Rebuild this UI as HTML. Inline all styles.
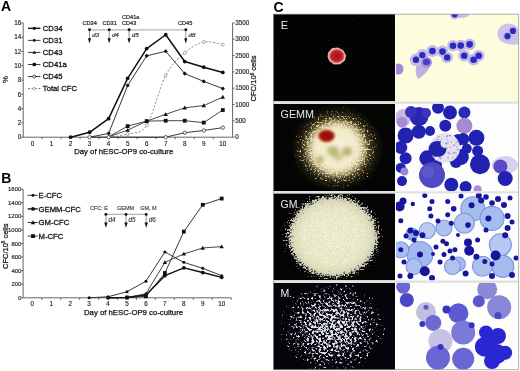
<!DOCTYPE html>
<html><head><meta charset="utf-8">
<style>
html,body{margin:0;padding:0;background:#fff;}
body{width:520px;height:371px;overflow:hidden;}
svg{display:block;will-change:transform;filter:blur(0.3px);}
</style></head><body>
<svg width="520" height="371" viewBox="0 0 520 371">
<defs><clipPath id="c00"><rect x="273" y="14" width="122" height="87.5"/></clipPath><clipPath id="c01"><rect x="396" y="14" width="123" height="87.5"/></clipPath><clipPath id="c10"><rect x="273" y="103.8" width="122" height="87.5"/></clipPath><clipPath id="c11"><rect x="396" y="103.8" width="123" height="87.5"/></clipPath><clipPath id="c20"><rect x="273" y="193.3" width="122" height="87.1"/></clipPath><clipPath id="c21"><rect x="396" y="193.3" width="123" height="87.1"/></clipPath><clipPath id="c30"><rect x="273" y="282.8" width="122" height="87.2"/></clipPath><clipPath id="c31"><rect x="396" y="282.8" width="123" height="87.2"/></clipPath><radialGradient id="eb"><stop offset="0" stop-color="#a81418"/><stop offset="0.6" stop-color="#bc1e24"/><stop offset="0.8" stop-color="#d86060"/><stop offset="0.92" stop-color="#f2b8b0"/><stop offset="1" stop-color="#e8a8a0"/></radialGradient><filter id="sb" x="-20%" y="-20%" width="140%" height="140%"><feGaussianBlur stdDeviation="0.45"/></filter><filter id="spk1" x="0" y="0" width="1" height="1" color-interpolation-filters="sRGB"><feTurbulence type="fractalNoise" baseFrequency="0.55" numOctaves="2" seed="5"/><feColorMatrix type="matrix" values="1 0 0 0 0  1 0 0 0 0  1 0 0 0 0  1 0 0 0 0" result="na"/><feComposite in="na" in2="SourceAlpha" operator="arithmetic" k2="5" k3="5" k4="-5" result="m"/><feFlood flood-color="#e0d28e"/><feComposite in2="m" operator="in"/></filter><radialGradient id="gmh"><stop offset="0" stop-color="#fff" stop-opacity="1"/><stop offset="0.35" stop-color="#fff" stop-opacity="0.92"/><stop offset="0.55" stop-color="#fff" stop-opacity="0.6"/><stop offset="0.8" stop-color="#fff" stop-opacity="0.4"/><stop offset="1" stop-color="#fff" stop-opacity="0.22"/></radialGradient><radialGradient id="gmc"><stop offset="0" stop-color="#f6f3dc"/><stop offset="0.65" stop-color="#f2edd0" stop-opacity="0.95"/><stop offset="0.85" stop-color="#e8e0b8" stop-opacity="0.6"/><stop offset="1" stop-color="#e6dcb0" stop-opacity="0"/></radialGradient><radialGradient id="gmz"><stop offset="0" stop-color="#908048"/><stop offset="0.6" stop-color="#62562c" stop-opacity="0.85"/><stop offset="1" stop-color="#2a2614" stop-opacity="0"/></radialGradient><filter id="bl2" x="-50%" y="-50%" width="200%" height="200%"><feGaussianBlur stdDeviation="2.2"/></filter><filter id="bl1" x="-50%" y="-50%" width="200%" height="200%"><feGaussianBlur stdDeviation="1.1"/></filter><filter id="spk3" x="0" y="0" width="1" height="1" color-interpolation-filters="sRGB"><feTurbulence type="fractalNoise" baseFrequency="0.55" numOctaves="2" seed="11"/><feColorMatrix type="matrix" values="1 0 0 0 0  1 0 0 0 0  1 0 0 0 0  1 0 0 0 0" result="na"/><feComposite in="na" in2="SourceAlpha" operator="arithmetic" k2="5" k3="5" k4="-5" result="m"/><feFlood flood-color="#c9cab8"/><feComposite in2="m" operator="in"/></filter><filter id="spk3b" x="0" y="0" width="1" height="1" color-interpolation-filters="sRGB"><feTurbulence type="fractalNoise" baseFrequency="0.9" numOctaves="1" seed="12"/><feColorMatrix type="matrix" values="1 0 0 0 0  1 0 0 0 0  1 0 0 0 0  1 0 0 0 0" result="na"/><feComposite in="na" in2="SourceAlpha" operator="arithmetic" k2="4" k3="4" k4="-4" result="m"/><feFlood flood-color="#fbfbee"/><feComposite in2="m" operator="in"/></filter><radialGradient id="gm3h"><stop offset="0" stop-color="#fff" stop-opacity="1"/><stop offset="0.75" stop-color="#fff" stop-opacity="0.88"/><stop offset="0.88" stop-color="#fff" stop-opacity="0.52"/><stop offset="1" stop-color="#fff" stop-opacity="0.25"/></radialGradient><radialGradient id="gm3c"><stop offset="0" stop-color="#efeed2"/><stop offset="0.7" stop-color="#e9e7c6"/><stop offset="0.88" stop-color="#e2e0bc" stop-opacity="0.8"/><stop offset="1" stop-color="#dcdab4" stop-opacity="0"/></radialGradient><radialGradient id="gm3g"><stop offset="0" stop-color="#fff" stop-opacity="0.47"/><stop offset="0.8" stop-color="#fff" stop-opacity="0.44"/><stop offset="1" stop-color="#fff" stop-opacity="0"/></radialGradient><filter id="spk3c" x="0" y="0" width="1" height="1" color-interpolation-filters="sRGB"><feTurbulence type="fractalNoise" baseFrequency="0.7" numOctaves="1" seed="17"/><feColorMatrix type="matrix" values="1 0 0 0 0  1 0 0 0 0  1 0 0 0 0  1 0 0 0 0" result="na"/><feComposite in="na" in2="SourceAlpha" operator="arithmetic" k2="4" k3="4" k4="-4" result="m"/><feFlood flood-color="#cfcca2"/><feComposite in2="m" operator="in"/></filter><filter id="spk4" x="0" y="0" width="1" height="1" color-interpolation-filters="sRGB"><feTurbulence type="fractalNoise" baseFrequency="0.42" numOctaves="2" seed="21"/><feColorMatrix type="matrix" values="1 0 0 0 0  1 0 0 0 0  1 0 0 0 0  1 0 0 0 0" result="na"/><feComposite in="na" in2="SourceAlpha" operator="arithmetic" k2="6" k3="6" k4="-6" result="m"/><feFlood flood-color="#e2e4f4"/><feComposite in2="m" operator="in"/></filter><radialGradient id="gm4h"><stop offset="0" stop-color="#fff" stop-opacity="0.62"/><stop offset="0.45" stop-color="#fff" stop-opacity="0.55"/><stop offset="0.8" stop-color="#fff" stop-opacity="0.42"/><stop offset="1" stop-color="#fff" stop-opacity="0.32"/></radialGradient></defs>
<rect width="520" height="371" fill="#fff"/>
<g stroke="#555" stroke-width="0.9" fill="none">
<path d="M23.2 22.9V137.2H232.6V22.9"/>
<path d="M21.2 137.2H23.2M21.2 122.91H23.2M21.2 108.62H23.2M21.2 94.34H23.2M21.2 80.05H23.2M21.2 65.76H23.2M21.2 51.47H23.2M21.2 37.19H23.2M21.2 22.9H23.2M232.6 137.2H234.6M232.6 120.87H234.6M232.6 104.54H234.6M232.6 88.21H234.6M232.6 71.89H234.6M232.6 55.56H234.6M232.6 39.23H234.6M232.6 22.9H234.6M42 137.2V139.2M61.03 137.2V139.2M80.06 137.2V139.2M99.09 137.2V139.2M118.12 137.2V139.2M137.15 137.2V139.2M156.18 137.2V139.2M175.21 137.2V139.2M194.24 137.2V139.2M213.27 137.2V139.2"/>
</g>
<g font-family='"Liberation Sans", sans-serif' font-size="6.3" fill="#222" stroke="#222" stroke-width="0.15" text-anchor="end">
<text x="21.3" y="139.4">0</text>
<text x="21.3" y="125.11">2</text>
<text x="21.3" y="110.83">4</text>
<text x="21.3" y="96.54">6</text>
<text x="21.3" y="82.25">8</text>
<text x="21.3" y="67.96">10</text>
<text x="21.3" y="53.67">12</text>
<text x="21.3" y="39.39">14</text>
<text x="21.3" y="25.1">16</text>
</g>
<g font-family='"Liberation Sans", sans-serif' font-size="6.3" fill="#222" stroke="#222" stroke-width="0.15">
<text x="235.2" y="139.4">0</text>
<text x="235.2" y="123.07">500</text>
<text x="235.2" y="106.74">1000</text>
<text x="235.2" y="90.41">1500</text>
<text x="235.2" y="74.09">2000</text>
<text x="235.2" y="57.76">2500</text>
<text x="235.2" y="41.43">3000</text>
<text x="235.2" y="25.1">3500</text>
</g>
<g font-family='"Liberation Sans", sans-serif' font-size="6.3" fill="#222" stroke="#222" stroke-width="0.15" text-anchor="middle">
<text x="32.5" y="146">0</text>
<text x="51.53" y="146">1</text>
<text x="70.56" y="146">2</text>
<text x="89.59" y="146">3</text>
<text x="108.62" y="146">4</text>
<text x="127.65" y="146">5</text>
<text x="146.68" y="146">6</text>
<text x="165.71" y="146">7</text>
<text x="184.74" y="146">8</text>
<text x="203.77" y="146">9</text>
<text x="222.8" y="146">10</text>
</g>
<text x="74.2" y="154.4" font-family='"Liberation Sans", sans-serif' font-size="7.75" fill="#111" stroke="#111" stroke-width="0.25">Day of hESC-OP9 co-culture</text>
<text transform="translate(7.6 79.5) rotate(-90)" text-anchor="middle" font-family='"Liberation Sans", sans-serif' font-size="7.8" fill="#111" stroke="#111" stroke-width="0.2">%</text>
<text transform="translate(256.2 78.5) rotate(-90)" text-anchor="middle" font-family='"Liberation Sans", sans-serif' font-size="7.6" fill="#111" stroke="#111" stroke-width="0.25">CFC/10<tspan font-size="4.6" dy="-2.6">6</tspan><tspan dy="2.6"> cells</tspan></text>
<text x="1" y="10.9" font-family='"Liberation Sans", sans-serif' font-size="14" font-weight="bold" fill="#000">A</text>
<path d="M108.62 137.2C111.79 136.68 121.31 136.08 127.65 134.1C133.99 132.12 140.34 135.08 146.68 125.31C153.02 115.54 159.37 87.54 165.71 75.48C172.05 63.42 178.4 58.52 184.74 52.94C191.08 47.37 197.43 43.39 203.77 42C210.11 40.62 219.63 44.18 222.8 44.62" fill="none" stroke="#777" stroke-width="0.8" stroke-dasharray="2.2 1.6"/>
<circle cx="127.65" cy="134.1" r="1.5" fill="#fff" stroke="#888" stroke-width="0.7"/>
<circle cx="146.68" cy="125.31" r="1.5" fill="#fff" stroke="#888" stroke-width="0.7"/>
<circle cx="165.71" cy="75.48" r="1.5" fill="#fff" stroke="#888" stroke-width="0.7"/>
<circle cx="184.74" cy="52.94" r="1.5" fill="#fff" stroke="#888" stroke-width="0.7"/>
<circle cx="203.77" cy="42" r="1.5" fill="#fff" stroke="#888" stroke-width="0.7"/>
<circle cx="222.8" cy="44.62" r="1.5" fill="#fff" stroke="#888" stroke-width="0.7"/>
<polyline points="89.59,137.2 108.62,137.2 127.65,137.2 146.68,137.2 165.71,137.2 184.74,132.7 203.77,130.48 222.8,127.63" fill="none" stroke="#222" stroke-width="0.9" stroke-linejoin="round"/>
<polyline points="108.62,136.84 127.65,126.13 146.68,121.13 165.71,120.7 184.74,120.7 203.77,122.63 222.8,110.05" fill="none" stroke="#333" stroke-width="0.9" stroke-linejoin="round"/>
<polyline points="108.62,136.84 127.65,130.13 146.68,121.13 165.71,114.34 184.74,107.77 203.77,105.55 222.8,97.05" fill="none" stroke="#333" stroke-width="0.9" stroke-linejoin="round"/>
<polyline points="89.59,137.2 108.62,133.41 127.65,85.48 146.68,55.83 165.71,51.26 184.74,73.62 203.77,81.41 222.8,88.55" fill="none" stroke="#222" stroke-width="0.9" stroke-linejoin="round"/>
<polyline points="70.56,137.2 89.59,132.27 108.62,118.63 127.65,78.34 146.68,48.62 165.71,34.76 184.74,61.55 203.77,67.19 222.8,72.41" fill="none" stroke="#111" stroke-width="1.5" stroke-linejoin="round"/>
<circle cx="89.59" cy="137.2" r="1.7" fill="#fff" stroke="#333" stroke-width="0.8"/>
<circle cx="108.62" cy="137.2" r="1.7" fill="#fff" stroke="#333" stroke-width="0.8"/>
<circle cx="165.71" cy="137.2" r="1.7" fill="#fff" stroke="#333" stroke-width="0.8"/>
<circle cx="184.74" cy="132.7" r="1.7" fill="#fff" stroke="#333" stroke-width="0.8"/>
<circle cx="203.77" cy="130.48" r="1.7" fill="#fff" stroke="#333" stroke-width="0.8"/>
<circle cx="222.8" cy="127.63" r="1.7" fill="#fff" stroke="#333" stroke-width="0.8"/>
<rect x="125.75" y="124.23" width="3.8" height="3.8" fill="#111"/>
<rect x="144.78" y="119.23" width="3.8" height="3.8" fill="#111"/>
<rect x="163.81" y="118.8" width="3.8" height="3.8" fill="#111"/>
<rect x="182.84" y="118.8" width="3.8" height="3.8" fill="#111"/>
<rect x="201.87" y="120.73" width="3.8" height="3.8" fill="#111"/>
<rect x="220.9" y="108.15" width="3.8" height="3.8" fill="#111"/>
<path d="M127.65 127.93L129.85 131.78L125.45 131.78Z" fill="#111"/>
<path d="M146.68 118.93L148.88 122.78L144.48 122.78Z" fill="#111"/>
<path d="M165.71 112.14L167.91 115.99L163.51 115.99Z" fill="#111"/>
<path d="M184.74 105.57L186.94 109.42L182.54 109.42Z" fill="#111"/>
<path d="M203.77 103.35L205.97 107.2L201.57 107.2Z" fill="#111"/>
<path d="M222.8 94.85L225 98.7L220.6 98.7Z" fill="#111"/>
<path d="M108.62 131.31L110.72 133.41L108.62 135.51L106.52 133.41Z" fill="#111"/>
<path d="M127.65 83.38L129.75 85.48L127.65 87.58L125.55 85.48Z" fill="#111"/>
<path d="M146.68 53.73L148.78 55.83L146.68 57.93L144.58 55.83Z" fill="#111"/>
<path d="M165.71 49.16L167.81 51.26L165.71 53.36L163.61 51.26Z" fill="#111"/>
<path d="M184.74 71.52L186.84 73.62L184.74 75.72L182.64 73.62Z" fill="#111"/>
<path d="M203.77 79.31L205.87 81.41L203.77 83.51L201.67 81.41Z" fill="#111"/>
<path d="M222.8 86.45L224.9 88.55L222.8 90.65L220.7 88.55Z" fill="#111"/>
<circle cx="70.56" cy="137.2" r="1.9" fill="#111"/>
<circle cx="89.59" cy="132.27" r="1.9" fill="#111"/>
<circle cx="108.62" cy="118.63" r="1.9" fill="#111"/>
<circle cx="127.65" cy="78.34" r="1.9" fill="#111"/>
<circle cx="146.68" cy="48.62" r="1.9" fill="#111"/>
<circle cx="165.71" cy="34.76" r="1.9" fill="#111"/>
<circle cx="184.74" cy="61.55" r="1.9" fill="#111"/>
<circle cx="203.77" cy="67.19" r="1.9" fill="#111"/>
<circle cx="222.8" cy="72.41" r="1.9" fill="#111"/>
<path d="M28 28.3H40.4" stroke="#222" stroke-width="1.5"/>
<circle cx="34.3" cy="28.3" r="1.61" fill="#111"/>
<text x="42.8" y="31" font-family='"Liberation Sans", sans-serif' font-size="7.7" fill="#111" stroke="#111" stroke-width="0.28">CD34</text>
<path d="M28 40.36H40.4" stroke="#222" stroke-width="0.9"/>
<path d="M34.3 38.58L36.08 40.36L34.3 42.14L32.52 40.36Z" fill="#111"/>
<text x="42.8" y="43.06" font-family='"Liberation Sans", sans-serif' font-size="7.7" fill="#111" stroke="#111" stroke-width="0.28">CD31</text>
<path d="M28 52.42H40.4" stroke="#222" stroke-width="0.9"/>
<path d="M34.3 50.55L36.17 53.82L32.43 53.82Z" fill="#111"/>
<text x="42.8" y="55.12" font-family='"Liberation Sans", sans-serif' font-size="7.7" fill="#111" stroke="#111" stroke-width="0.28">CD43</text>
<path d="M28 64.48H40.4" stroke="#222" stroke-width="0.9"/>
<rect x="32.68" y="62.87" width="3.23" height="3.23" fill="#111"/>
<text x="42.8" y="67.18" font-family='"Liberation Sans", sans-serif' font-size="7.7" fill="#111" stroke="#111" stroke-width="0.28">CD41a</text>
<path d="M28 76.54H40.4" stroke="#222" stroke-width="0.9"/>
<circle cx="34.3" cy="76.54" r="1.44" fill="#fff" stroke="#111" stroke-width="0.8"/>
<text x="42.8" y="79.24" font-family='"Liberation Sans", sans-serif' font-size="7.7" fill="#111" stroke="#111" stroke-width="0.28">CD45</text>
<path d="M28 88.6H40.4" stroke="#666" stroke-width="0.85" stroke-dasharray="2 1.5"/>
<circle cx="34.3" cy="88.6" r="1.27" fill="#fff" stroke="#888" stroke-width="0.7"/>
<text x="42.8" y="91.3" font-family='"Liberation Sans", sans-serif' font-size="7.7" fill="#111" stroke="#111" stroke-width="0.28">Total CFC</text>
<path d="M89.5 29.8H185.8" stroke="#b4b4b4" stroke-width="1.3"/>
<path d="M89.5 29.8V40" stroke="#888" stroke-width="0.9"/>
<path d="M87.9 38.3L91.1 38.3L89.5 43.6Z" fill="#111"/>
<circle cx="89.5" cy="29.8" r="1.45" fill="#111"/>
<text x="92.2" y="36.9" font-family='"Liberation Sans", sans-serif' font-size="6.2" font-style="italic" fill="#333" stroke="#333" stroke-width="0.2">d3</text>
<path d="M109.2 29.8V40" stroke="#888" stroke-width="0.9"/>
<path d="M107.6 38.3L110.8 38.3L109.2 43.6Z" fill="#111"/>
<circle cx="109.2" cy="29.8" r="1.45" fill="#111"/>
<text x="111.9" y="36.9" font-family='"Liberation Sans", sans-serif' font-size="6.2" font-style="italic" fill="#333" stroke="#333" stroke-width="0.2">d4</text>
<path d="M129.1 29.8V40" stroke="#888" stroke-width="0.9"/>
<path d="M127.5 38.3L130.7 38.3L129.1 43.6Z" fill="#111"/>
<circle cx="129.1" cy="29.8" r="1.45" fill="#111"/>
<text x="131.8" y="36.9" font-family='"Liberation Sans", sans-serif' font-size="6.2" font-style="italic" fill="#333" stroke="#333" stroke-width="0.2">d5</text>
<path d="M185.8 29.8V40" stroke="#888" stroke-width="0.9"/>
<path d="M184.2 38.3L187.4 38.3L185.8 43.6Z" fill="#111"/>
<circle cx="185.8" cy="29.8" r="1.45" fill="#111"/>
<text x="188.5" y="36.9" font-family='"Liberation Sans", sans-serif' font-size="6.2" font-style="italic" fill="#333" stroke="#333" stroke-width="0.2">d8</text>
<g font-family='"Liberation Sans", sans-serif' font-size="5.6" fill="#222" stroke="#222" stroke-width="0.2" text-anchor="middle">
<text x="89.7" y="25.3">CD34</text>
<text x="109.6" y="25.3">CD31</text>
<text x="122" y="18.9" text-anchor="start">CD41a</text>
<text x="122" y="25.3" text-anchor="start">CD43</text>
<text x="185.2" y="25.3">CD45</text>
</g>
<g stroke="#555" stroke-width="0.9" fill="none">
<path d="M23.1 189.2V297.8H231.3"/>
<path d="M21.1 297.8H23.1M21.1 284.23H23.1M21.1 270.65H23.1M21.1 257.07H23.1M21.1 243.5H23.1M21.1 229.93H23.1M21.1 216.35H23.1M21.1 202.77H23.1M21.1 189.2H23.1M41.77 297.8V299.8M60.71 297.8V299.8M79.65 297.8V299.8M98.59 297.8V299.8M117.53 297.8V299.8M136.47 297.8V299.8M155.41 297.8V299.8M174.35 297.8V299.8M193.29 297.8V299.8M212.23 297.8V299.8M231.17 297.8V299.8"/>
</g>
<g font-family='"Liberation Sans", sans-serif' font-size="6" fill="#222" stroke="#222" stroke-width="0.15" text-anchor="end">
<text x="21.4" y="299.9">0</text>
<text x="21.4" y="286.33">200</text>
<text x="21.4" y="272.75">400</text>
<text x="21.4" y="259.18">600</text>
<text x="21.4" y="245.6">800</text>
<text x="21.4" y="232.03">1000</text>
<text x="21.4" y="218.45">1200</text>
<text x="21.4" y="204.87">1400</text>
<text x="21.4" y="191.3">1600</text>
</g>
<g font-family='"Liberation Sans", sans-serif' font-size="6.3" fill="#222" stroke="#222" stroke-width="0.15" text-anchor="middle">
<text x="32.3" y="306.1">0</text>
<text x="51.24" y="306.1">1</text>
<text x="70.18" y="306.1">2</text>
<text x="89.12" y="306.1">3</text>
<text x="108.06" y="306.1">4</text>
<text x="127" y="306.1">5</text>
<text x="145.94" y="306.1">6</text>
<text x="164.88" y="306.1">7</text>
<text x="183.82" y="306.1">8</text>
<text x="202.76" y="306.1">9</text>
<text x="221.7" y="306.1">10</text>
</g>
<text x="84" y="314.6" font-family='"Liberation Sans", sans-serif' font-size="7.75" fill="#111" stroke="#111" stroke-width="0.25">Day of hESC-OP9 co-culture</text>
<text transform="translate(7.5 246.3) rotate(-90)" text-anchor="middle" font-family='"Liberation Sans", sans-serif' font-size="7.5" fill="#111" stroke="#111" stroke-width="0.25">CFC/10<tspan font-size="4.5" dy="-2.6">6</tspan><tspan dy="2.6"> cells</tspan></text>
<text x="1.2" y="183" font-family='"Liberation Sans", sans-serif' font-size="14" font-weight="bold" fill="#000">B</text>
<polyline points="108.06,297.8 127,297.6 145.94,296.31 164.88,273.03 183.82,231.62 202.76,204.81 221.7,198.57" fill="none" stroke="#222" stroke-width="0.9" stroke-linejoin="round"/>
<polyline points="108.06,297.8 127,297.46 145.94,293.73 164.88,262.37 183.82,253.95 202.76,247.98 221.7,246.62" fill="none" stroke="#333" stroke-width="0.9" stroke-linejoin="round"/>
<polyline points="89.12,297.8 108.06,296.78 127,291.69 145.94,281.17 164.88,251.98 183.82,262.37 202.76,268.34 221.7,275.67" fill="none" stroke="#222" stroke-width="0.9" stroke-linejoin="round"/>
<polyline points="108.06,297.8 127,297.46 145.94,295.09 164.88,275.67 183.82,267.87 202.76,272.55 221.7,277.37" fill="none" stroke="#111" stroke-width="1.5" stroke-linejoin="round"/>
<rect x="125.1" y="295.7" width="3.8" height="3.8" fill="#111"/>
<rect x="144.04" y="294.41" width="3.8" height="3.8" fill="#111"/>
<rect x="162.98" y="271.13" width="3.8" height="3.8" fill="#111"/>
<rect x="181.92" y="229.72" width="3.8" height="3.8" fill="#111"/>
<rect x="200.86" y="202.91" width="3.8" height="3.8" fill="#111"/>
<rect x="219.8" y="196.67" width="3.8" height="3.8" fill="#111"/>
<path d="M145.94 291.53L148.14 295.38L143.74 295.38Z" fill="#111"/>
<path d="M164.88 260.17L167.08 264.02L162.68 264.02Z" fill="#111"/>
<path d="M183.82 251.75L186.02 255.6L181.62 255.6Z" fill="#111"/>
<path d="M202.76 245.78L204.96 249.63L200.56 249.63Z" fill="#111"/>
<path d="M221.7 244.42L223.9 248.27L219.5 248.27Z" fill="#111"/>
<circle cx="89.12" cy="297.8" r="1.5" fill="#111"/>
<circle cx="108.06" cy="296.78" r="1.5" fill="#111"/>
<circle cx="127" cy="291.69" r="1.5" fill="#111"/>
<circle cx="145.94" cy="281.17" r="1.5" fill="#111"/>
<circle cx="164.88" cy="251.98" r="1.5" fill="#111"/>
<circle cx="183.82" cy="262.37" r="1.5" fill="#111"/>
<circle cx="202.76" cy="268.34" r="1.5" fill="#111"/>
<circle cx="221.7" cy="275.67" r="1.5" fill="#111"/>
<circle cx="108.06" cy="297.8" r="1.9" fill="#111"/>
<circle cx="127" cy="297.46" r="1.9" fill="#111"/>
<circle cx="145.94" cy="295.09" r="1.9" fill="#111"/>
<circle cx="164.88" cy="275.67" r="1.9" fill="#111"/>
<circle cx="183.82" cy="267.87" r="1.9" fill="#111"/>
<circle cx="202.76" cy="272.55" r="1.9" fill="#111"/>
<circle cx="221.7" cy="277.37" r="1.9" fill="#111"/>
<path d="M27.6 195.3H37.8" stroke="#222" stroke-width="0.9"/>
<circle cx="33" cy="195.3" r="1.5" fill="#111"/>
<text x="38.6" y="198" font-family='"Liberation Sans", sans-serif' font-size="7.7" fill="#111" stroke="#111" stroke-width="0.28">E-CFC</text>
<path d="M27.6 208.9H37.8" stroke="#222" stroke-width="1.4"/>
<circle cx="33" cy="208.9" r="1.9" fill="#111"/>
<text x="38.6" y="211.6" font-family='"Liberation Sans", sans-serif' font-size="7.7" fill="#111" stroke="#111" stroke-width="0.28">GEMM-CFC</text>
<path d="M27.6 222.5H37.8" stroke="#222" stroke-width="0.9"/>
<path d="M33 220.3L35.2 224.15L30.8 224.15Z" fill="#111"/>
<text x="38.6" y="225.2" font-family='"Liberation Sans", sans-serif' font-size="7.7" fill="#111" stroke="#111" stroke-width="0.28">GM-CFC</text>
<path d="M27.6 236.1H37.8" stroke="#222" stroke-width="0.9"/>
<rect x="31.1" y="234.2" width="3.8" height="3.8" fill="#111"/>
<text x="38.6" y="238.8" font-family='"Liberation Sans", sans-serif' font-size="7.7" fill="#111" stroke="#111" stroke-width="0.28">M-CFC</text>
<path d="M105.9 214.4H146.2" stroke="#b4b4b4" stroke-width="1.2"/>
<path d="M105.9 214.4V224" stroke="#888" stroke-width="0.9"/>
<path d="M104.2 222.4L107.6 222.4L105.9 227.8Z" fill="#111"/>
<circle cx="105.9" cy="214.4" r="1.45" fill="#111"/>
<text x="108.4" y="221.8" font-family='"Liberation Sans", sans-serif' font-size="6.3" font-style="italic" fill="#333" stroke="#333" stroke-width="0.15">d4</text>
<path d="M126 214.4V224" stroke="#888" stroke-width="0.9"/>
<path d="M124.3 222.4L127.7 222.4L126 227.8Z" fill="#111"/>
<circle cx="126" cy="214.4" r="1.45" fill="#111"/>
<text x="128.5" y="221.8" font-family='"Liberation Sans", sans-serif' font-size="6.3" font-style="italic" fill="#333" stroke="#333" stroke-width="0.15">d5</text>
<path d="M146.2 214.4V224" stroke="#888" stroke-width="0.9"/>
<path d="M144.5 222.4L147.9 222.4L146.2 227.8Z" fill="#111"/>
<circle cx="146.2" cy="214.4" r="1.45" fill="#111"/>
<text x="148.7" y="221.8" font-family='"Liberation Sans", sans-serif' font-size="6.3" font-style="italic" fill="#333" stroke="#333" stroke-width="0.15">d6</text>
<g font-family='"Liberation Sans", sans-serif' font-size="5.5" fill="#333" stroke="#333" stroke-width="0.12">
<text x="90" y="210.3">CFC: E</text>
<text x="117" y="210.3">GEMM</text>
<text x="140.2" y="210.3">GM, M</text>
</g>
<text x="273.6" y="11.8" font-family='"Liberation Sans", sans-serif' font-size="14" font-weight="bold" fill="#000">C</text>
<g clip-path="url(#c00)"><rect x="273" y="14" width="122" height="87.5" fill="#030303"/><path d="M328.6 52.5 L332 48.6 L338 48 L343 50.5 L345.6 55.5 L344.5 60.5 L340 63.8 L334 64 L329.6 60.8 L328 56.5Z" fill="url(#eb)" stroke="#f0c0b4" stroke-width="0.9" stroke-linejoin="round" filter="url(#sb)"/><circle cx="312.51" cy="27.2" r="0.5" fill="#333"/><circle cx="352.41" cy="20.34" r="0.5" fill="#333"/><circle cx="338.38" cy="46" r="0.5" fill="#333"/><circle cx="280.08" cy="58.4" r="0.5" fill="#333"/><circle cx="277.57" cy="51.94" r="0.5" fill="#333"/><circle cx="281.52" cy="21.94" r="0.5" fill="#333"/><circle cx="324.79" cy="86.35" r="0.5" fill="#333"/><circle cx="288.1" cy="33.53" r="0.5" fill="#333"/><circle cx="349.55" cy="96.92" r="0.5" fill="#333"/><circle cx="343.41" cy="48.71" r="0.5" fill="#333"/><circle cx="392.1" cy="18.08" r="0.5" fill="#333"/><circle cx="377.73" cy="39.34" r="0.5" fill="#333"/><circle cx="290.6" cy="24.31" r="0.5" fill="#333"/><circle cx="310.63" cy="85.41" r="0.5" fill="#333"/><circle cx="295.05" cy="64.89" r="0.5" fill="#333"/><circle cx="350.95" cy="46.58" r="0.5" fill="#333"/><circle cx="339.82" cy="19.49" r="0.5" fill="#333"/><circle cx="280.27" cy="32.02" r="0.5" fill="#333"/><circle cx="356.01" cy="51.41" r="0.5" fill="#333"/><circle cx="311.33" cy="65.24" r="0.5" fill="#333"/><circle cx="328.29" cy="40.23" r="0.5" fill="#333"/><circle cx="369.91" cy="75.16" r="0.5" fill="#333"/><circle cx="302.78" cy="64.26" r="0.5" fill="#333"/><circle cx="337.07" cy="90.57" r="0.5" fill="#333"/><circle cx="361.99" cy="39.19" r="0.5" fill="#333"/><text x="280.8" y="28.8" font-family='"Liberation Sans", sans-serif' font-size="11" fill="#e8e8e8">E</text></g>
<g clip-path="url(#c01)"><rect x="396" y="14" width="123" height="87.5" fill="#fdfcdc"/><g filter="url(#sb)"><ellipse cx="460" cy="15" rx="9" ry="3" fill="#c8bce6"/><path d="M417 63 Q425 60 430 66 Q427 74 418 79 Q414 72 417 63Z" fill="#bfb0e0"/><ellipse cx="398.5" cy="69" rx="5" ry="5.5" fill="#a486e0"/><path d="M498 30 Q503 22 512 24 Q519 26 519 34 L519 44 Q510 46 502 42 Q496 37 498 30Z" fill="#cdc2e8"/><circle cx="416" cy="59.8" r="6.2" fill="#c6b9e8"/><circle cx="422.3" cy="55.1" r="6" fill="#c6b9e8"/><circle cx="432.4" cy="51.1" r="6" fill="#c6b9e8"/><circle cx="442.5" cy="51.6" r="6" fill="#c6b9e8"/><circle cx="447.2" cy="57.4" r="5.7" fill="#c6b9e8"/><circle cx="453" cy="45.7" r="5.8" fill="#c6b9e8"/><circle cx="460.7" cy="45.6" r="5.9" fill="#c6b9e8"/><circle cx="469.6" cy="44.4" r="5.9" fill="#c6b9e8"/><circle cx="464.2" cy="55.7" r="5.9" fill="#c6b9e8"/><circle cx="473.6" cy="59.7" r="5.9" fill="#c6b9e8"/><circle cx="478.7" cy="55.7" r="5.8" fill="#c6b9e8"/><circle cx="507.5" cy="36.2" r="4.8" fill="#c6b9e8"/><circle cx="512.9" cy="30.9" r="4.8" fill="#c6b9e8"/><circle cx="454.7" cy="14.5" r="4.8" fill="#c6b9e8"/><circle cx="426.5" cy="62.3" r="5.5" fill="#a690dc"/><circle cx="416" cy="59.8" r="3.2" fill="#2a2ac0"/><circle cx="422.3" cy="55.1" r="3.2" fill="#2a2ac0"/><circle cx="432.4" cy="51.1" r="3.3" fill="#2a2ac0"/><circle cx="442.5" cy="51.6" r="3.3" fill="#2a2ac0"/><circle cx="447.2" cy="57.4" r="3.2" fill="#2a2ac0"/><circle cx="453" cy="45.7" r="3.3" fill="#2a2ac0"/><circle cx="460.7" cy="45.6" r="3.3" fill="#2a2ac0"/><circle cx="469.6" cy="44.4" r="3.3" fill="#2a2ac0"/><circle cx="464.2" cy="55.7" r="3.3" fill="#2a2ac0"/><circle cx="473.6" cy="59.7" r="3.3" fill="#2a2ac0"/><circle cx="478.7" cy="55.7" r="3.3" fill="#2a2ac0"/><circle cx="507.5" cy="36.2" r="3.1" fill="#2a2ac0"/><circle cx="512.9" cy="30.9" r="3.1" fill="#2a2ac0"/><circle cx="454.7" cy="14.5" r="3" fill="#2a2ac0"/><ellipse cx="426.5" cy="62" rx="3.6" ry="3.2" fill="#4a3cc0"/></g></g>
<g clip-path="url(#c10)"><rect x="273" y="103.8" width="122" height="87.5" fill="#040403"/><ellipse cx="337" cy="148" rx="47" ry="44" fill="url(#gmz)"/><ellipse cx="337" cy="148" rx="47" ry="44" fill="url(#gmh)" filter="url(#spk1)"/><ellipse cx="336.5" cy="148.5" rx="32" ry="30" fill="url(#gmc)" filter="url(#bl2)"/><g filter="url(#bl2)" opacity="0.75"><ellipse cx="333" cy="151" rx="6" ry="5" fill="#a8a050"/><ellipse cx="347" cy="151.5" rx="5" ry="4.5" fill="#a09848"/><ellipse cx="320" cy="159.5" rx="3.5" ry="3.2" fill="#9a9040"/><ellipse cx="338" cy="157" rx="5" ry="3.5" fill="#b8b068"/></g><g filter="url(#bl1)"><ellipse cx="326.5" cy="136" rx="8.6" ry="6.4" fill="#c04818" opacity="0.9"/><ellipse cx="326.5" cy="135.8" rx="7" ry="5.2" fill="#9c0c0c"/></g><text x="280.5" y="118.2" font-family='"Liberation Sans", sans-serif' font-size="10.8" fill="#e8e8e8">GEMM</text></g>
<g clip-path="url(#c11)"><rect x="396" y="103.8" width="123" height="87.5" fill="#fdfdfc"/><g filter="url(#sb)"><ellipse cx="505" cy="165" rx="13" ry="9" fill="#d8d0ee"/><ellipse cx="403" cy="118" rx="8" ry="9" fill="#c8b8e4"/><circle cx="402" cy="122.2" r="5.5" fill="#a48cd6"/><circle cx="419" cy="116.5" r="9.5" fill="#2a26b4"/><circle cx="411" cy="112" r="6" fill="#3430b8"/><circle cx="426" cy="113" r="5" fill="#3a34bc"/><circle cx="405.6" cy="135.5" r="8" fill="#2220b2"/><circle cx="418.8" cy="131.8" r="7" fill="#2220b2"/><circle cx="400.8" cy="147.5" r="6.5" fill="#2220b2"/><circle cx="405.6" cy="158.3" r="6" fill="#2220b2"/><circle cx="400.8" cy="167.9" r="5" fill="#2220b2"/><circle cx="404.4" cy="171.5" r="4" fill="#9c88d6"/><circle cx="402" cy="181.1" r="5" fill="#2220b2"/><circle cx="427.3" cy="158.3" r="8" fill="#2220b2"/><circle cx="438" cy="107.8" r="6" fill="#2220b2"/><circle cx="450" cy="112.6" r="7" fill="#2220b2"/><circle cx="445.3" cy="125.8" r="6" fill="#2220b2"/><circle cx="451.3" cy="184.7" r="7" fill="#2220b2"/><circle cx="456" cy="162" r="6" fill="#2220b2"/><circle cx="464.4" cy="112.6" r="6" fill="#2c2ab8"/><circle cx="464.4" cy="125.8" r="8" fill="#a58cd2"/><circle cx="476.4" cy="137.8" r="8" fill="#2220b2"/><circle cx="463.2" cy="139" r="6" fill="#2220b2"/><circle cx="477.6" cy="151" r="5.5" fill="#2220b2"/><circle cx="466.8" cy="148.6" r="5" fill="#2220b2"/><circle cx="460.8" cy="157" r="8" fill="#2220b2"/><circle cx="480" cy="164.2" r="10" fill="#2220b2"/><circle cx="500.4" cy="166.5" r="7" fill="#5a48cc"/><circle cx="505.2" cy="178.5" r="7.5" fill="#2220b2"/><circle cx="465.6" cy="187" r="6" fill="#2220b2"/><circle cx="477.6" cy="189.3" r="4" fill="#a890d8"/><circle cx="430" cy="131" r="5" fill="#2220b2"/><circle cx="458" cy="140" r="6" fill="#2220b2"/><circle cx="437" cy="165" r="5" fill="#2220b2"/><circle cx="432" cy="175.1" r="13" fill="#5048c4"/><circle cx="428" cy="172" r="6" fill="#6660cc" opacity="0.7"/><circle cx="445" cy="148" r="15" fill="#e4e0f0"/><ellipse cx="437.5" cy="149" rx="9" ry="8" fill="#2424aa"/><circle cx="445" cy="143.5" r="4.5" fill="#e4e0f0"/></g><circle cx="449.94" cy="147.38" r="0.62" fill="#a49cd0"/><circle cx="450.86" cy="156.28" r="0.47" fill="#fff"/><circle cx="454.57" cy="153.08" r="0.77" fill="#a49cd0"/><circle cx="449.03" cy="149.86" r="0.56" fill="#fff"/><circle cx="443.17" cy="144.94" r="0.73" fill="#fff"/><circle cx="451.48" cy="142.43" r="0.83" fill="#a49cd0"/><circle cx="447.44" cy="152.32" r="0.47" fill="#a49cd0"/><circle cx="449.96" cy="153.24" r="0.61" fill="#a49cd0"/><circle cx="453.5" cy="152.71" r="0.67" fill="#8a82c0"/><circle cx="450.68" cy="135.78" r="0.56" fill="#a49cd0"/><circle cx="456.94" cy="146.98" r="0.6" fill="#8a82c0"/><circle cx="448.55" cy="152.94" r="0.54" fill="#8a82c0"/><circle cx="458.18" cy="149" r="0.52" fill="#a49cd0"/><circle cx="454.38" cy="148.24" r="0.6" fill="#fff"/><circle cx="453.95" cy="137.06" r="0.71" fill="#fff"/><circle cx="457.97" cy="152.58" r="0.76" fill="#fff"/><circle cx="447.69" cy="139.32" r="0.61" fill="#8a82c0"/><circle cx="450.25" cy="161.4" r="0.63" fill="#8a82c0"/><circle cx="450.64" cy="148.01" r="0.49" fill="#a49cd0"/><circle cx="442.1" cy="145.48" r="0.53" fill="#a49cd0"/><circle cx="449.33" cy="153.85" r="0.59" fill="#a49cd0"/><circle cx="452.75" cy="157.88" r="0.75" fill="#a49cd0"/><circle cx="447.77" cy="142.87" r="0.46" fill="#fff"/><circle cx="437.22" cy="157.2" r="0.82" fill="#fff"/><circle cx="441.54" cy="159.1" r="0.49" fill="#a49cd0"/><circle cx="437.57" cy="139.41" r="0.77" fill="#8a82c0"/><circle cx="449.53" cy="135.69" r="0.75" fill="#8a82c0"/><circle cx="448.15" cy="157.68" r="0.74" fill="#8a82c0"/><circle cx="447.48" cy="138.35" r="0.53" fill="#fff"/><circle cx="454.34" cy="145.38" r="0.82" fill="#a49cd0"/><circle cx="453.41" cy="145.56" r="0.54" fill="#8a82c0"/><circle cx="444.51" cy="147.6" r="0.81" fill="#a49cd0"/><circle cx="446.3" cy="143.98" r="0.71" fill="#a49cd0"/><circle cx="447.53" cy="135.7" r="0.64" fill="#8a82c0"/><circle cx="457.06" cy="155.31" r="0.74" fill="#a49cd0"/><circle cx="433.51" cy="156.19" r="0.74" fill="#8a82c0"/><circle cx="447.4" cy="147.9" r="0.69" fill="#a49cd0"/><circle cx="446.93" cy="142.8" r="0.78" fill="#a49cd0"/><circle cx="440.28" cy="140.83" r="0.67" fill="#8a82c0"/><circle cx="457.85" cy="149.74" r="0.74" fill="#8a82c0"/><circle cx="448.07" cy="142.09" r="0.55" fill="#a49cd0"/><circle cx="440.08" cy="157.5" r="0.78" fill="#8a82c0"/><circle cx="452.28" cy="143.38" r="0.63" fill="#fff"/><circle cx="449.14" cy="138.44" r="0.78" fill="#fff"/><circle cx="448.85" cy="152.14" r="0.65" fill="#a49cd0"/><circle cx="446.88" cy="136.85" r="0.76" fill="#8a82c0"/><circle cx="449.68" cy="156.81" r="0.74" fill="#fff"/><circle cx="456.09" cy="152.53" r="0.66" fill="#a49cd0"/><circle cx="446.01" cy="143.39" r="0.67" fill="#8a82c0"/><circle cx="452.97" cy="153.62" r="0.46" fill="#8a82c0"/><circle cx="441.57" cy="138.87" r="0.66" fill="#a49cd0"/><circle cx="457.52" cy="141.9" r="0.81" fill="#8a82c0"/><circle cx="447.88" cy="143.47" r="0.5" fill="#a49cd0"/><circle cx="440.22" cy="158.87" r="0.62" fill="#8a82c0"/><circle cx="438.78" cy="136.77" r="0.81" fill="#8a82c0"/><circle cx="455.8" cy="143.68" r="0.6" fill="#a49cd0"/></g>
<g clip-path="url(#c20)"><rect x="273" y="193.3" width="122" height="87.1" fill="#040404"/><ellipse cx="333" cy="236.5" rx="52" ry="47" fill="url(#gm3h)" filter="url(#spk3)"/><ellipse cx="333" cy="237" rx="44" ry="40" fill="url(#gm3c)" filter="url(#bl1)"/><ellipse cx="333" cy="237" rx="42" ry="38" fill="url(#gm3g)" filter="url(#spk3b)"/><ellipse cx="333" cy="237" rx="42" ry="38" fill="url(#gm3g)" filter="url(#spk3c)" opacity="0.8"/><text x="280.5" y="207.9" font-family='"Liberation Sans", sans-serif' font-size="10.5" fill="#ececec">GM</text></g>
<g clip-path="url(#c21)"><rect x="396" y="193.3" width="123" height="87.1" fill="#fcfdfc"/><g filter="url(#sb)"><circle cx="472.8" cy="208.8" r="12" fill="#a6bcee" stroke="#7a94e2" stroke-width="1.1"/><circle cx="492" cy="218.4" r="12" fill="#a6bcee" stroke="#7a94e2" stroke-width="1.1"/><circle cx="464.4" cy="223.2" r="10" fill="#aec2f0" stroke="#7a94e2" stroke-width="1.1"/><circle cx="500.4" cy="244.8" r="11" fill="#b6c8f2" stroke="#7a94e2" stroke-width="1.1"/><circle cx="502.8" cy="266.3" r="11" fill="#a6bcee" stroke="#7a94e2" stroke-width="1.1"/><circle cx="482.4" cy="266.3" r="10" fill="#aec0ee" stroke="#7a94e2" stroke-width="1.1"/><circle cx="458.4" cy="264" r="7" fill="#a6bcee" stroke="#7a94e2" stroke-width="1.1"/><circle cx="420" cy="254.5" r="13" fill="#a2b8ee" stroke="#7a94e2" stroke-width="1.1"/><circle cx="400.8" cy="249.7" r="8" fill="#aabef0" stroke="#7a94e2" stroke-width="1.1"/><circle cx="427.3" cy="230.5" r="8" fill="#bccaf2" stroke="#7a94e2" stroke-width="1.1"/><circle cx="444" cy="228" r="8" fill="#aec2f0" stroke="#7a94e2" stroke-width="1.1"/><circle cx="414" cy="266.5" r="8" fill="#aec0ee" stroke="#7a94e2" stroke-width="1.1"/><circle cx="452.5" cy="266.5" r="8" fill="#b0c2ee" stroke="#7a94e2" stroke-width="1.1"/><circle cx="412" cy="234" r="6" fill="#94aae6" stroke="#7a94e2" stroke-width="1.1"/><circle cx="399.6" cy="206.4" r="5" fill="#18189c"/><circle cx="403" cy="201" r="3.5" fill="#18189c"/><circle cx="424.8" cy="195.6" r="2.5" fill="#18189c"/><circle cx="432" cy="201.6" r="2.5" fill="#18189c"/><circle cx="429.7" cy="208.8" r="2.5" fill="#18189c"/><circle cx="430.9" cy="216" r="2.5" fill="#18189c"/><circle cx="412.8" cy="204" r="2.2" fill="#18189c"/><circle cx="400.8" cy="220.8" r="2.5" fill="#18189c"/><circle cx="447.7" cy="201.6" r="2.5" fill="#18189c"/><circle cx="453.7" cy="208.8" r="2.8" fill="#18189c"/><circle cx="447.7" cy="214.8" r="2.5" fill="#18189c"/><circle cx="451.3" cy="223.3" r="2.5" fill="#18189c"/><circle cx="410.4" cy="230.5" r="3" fill="#18189c"/><circle cx="416" cy="233" r="3" fill="#18189c"/><circle cx="422.4" cy="235.3" r="3" fill="#18189c"/><circle cx="406" cy="236" r="2.5" fill="#18189c"/><circle cx="414" cy="240" r="2.5" fill="#18189c"/><circle cx="442.9" cy="241.3" r="2.5" fill="#18189c"/><circle cx="446.5" cy="243.7" r="2.5" fill="#18189c"/><circle cx="450" cy="250.9" r="2.5" fill="#18189c"/><circle cx="454.9" cy="249.7" r="2.5" fill="#18189c"/><circle cx="444" cy="254.5" r="2.5" fill="#18189c"/><circle cx="452.5" cy="258.1" r="2.5" fill="#18189c"/><circle cx="424.8" cy="271.3" r="5" fill="#18189c"/><circle cx="410.4" cy="276.1" r="3" fill="#18189c"/><circle cx="432" cy="278" r="3" fill="#18189c"/><circle cx="478.8" cy="195.6" r="3" fill="#18189c"/><circle cx="481.2" cy="200.4" r="3" fill="#18189c"/><circle cx="486" cy="197" r="2.8" fill="#18189c"/><circle cx="492" cy="203" r="2.8" fill="#18189c"/><circle cx="498" cy="199" r="3" fill="#18189c"/><circle cx="504" cy="205" r="3" fill="#18189c"/><circle cx="510" cy="198" r="2.5" fill="#18189c"/><circle cx="507.6" cy="216" r="3" fill="#18189c"/><circle cx="507.6" cy="228" r="3" fill="#18189c"/><circle cx="505.2" cy="235.2" r="3" fill="#18189c"/><circle cx="512" cy="222" r="2.5" fill="#18189c"/><circle cx="468" cy="242.4" r="4" fill="#18189c"/><circle cx="469.2" cy="250.8" r="5" fill="#18189c"/><circle cx="477.6" cy="240" r="2.5" fill="#18189c"/><circle cx="476.4" cy="256.7" r="3" fill="#18189c"/><circle cx="495.6" cy="255.5" r="5" fill="#18189c"/><circle cx="484.8" cy="261.5" r="2.5" fill="#18189c"/><circle cx="492" cy="264" r="2.5" fill="#18189c"/><circle cx="465.6" cy="273.5" r="3" fill="#18189c"/><circle cx="492" cy="276" r="3" fill="#18189c"/><circle cx="461" cy="196" r="2.5" fill="#18189c"/><circle cx="438" cy="221" r="2.5" fill="#18189c"/><circle cx="436" cy="247" r="2.5" fill="#18189c"/><circle cx="404" cy="262" r="2.5" fill="#18189c"/><circle cx="400" cy="276" r="2.5" fill="#18189c"/><circle cx="516" cy="258" r="2.5" fill="#18189c"/><circle cx="512" cy="275" r="3" fill="#18189c"/><circle cx="486" cy="230" r="2.5" fill="#18189c"/><circle cx="458" cy="235" r="2" fill="#18189c"/><circle cx="440" cy="262" r="2.5" fill="#18189c"/><circle cx="433" cy="254" r="2" fill="#18189c"/><circle cx="471.6" cy="205.2" r="3" fill="#18189c"/><circle cx="488.4" cy="218.4" r="3" fill="#18189c"/><circle cx="468" cy="225.1" r="2.8" fill="#18189c"/><circle cx="420" cy="254.5" r="3" fill="#18189c"/><circle cx="400.8" cy="249.7" r="2.5" fill="#18189c"/></g></g>
<g clip-path="url(#c30)"><rect x="273" y="282.8" width="122" height="87.2" fill="#04040a"/><ellipse cx="332" cy="328" rx="53" ry="47" fill="url(#gm4h)" filter="url(#spk4)"/><text x="280.5" y="296.8" font-family='"Liberation Sans", sans-serif' font-size="10.5" fill="#ececec">M</text><circle cx="290.6" cy="296.4" r="0.7" fill="#bbb"/></g>
<g clip-path="url(#c31)"><rect x="396" y="282.8" width="123" height="87.2" fill="#fdfdfb"/><g filter="url(#sb)"><circle cx="403.2" cy="286.8" r="7" fill="#6a68d0"/><circle cx="406.8" cy="300" r="7" fill="#4a48c8"/><circle cx="487.2" cy="289.2" r="10" fill="#8c88d6"/><circle cx="478.8" cy="301.2" r="6" fill="#5a58cc"/><circle cx="499.2" cy="307.2" r="12" fill="#8a86d8"/><circle cx="458.4" cy="313.2" r="10" fill="#5c5ad0"/><circle cx="426" cy="312" r="10" fill="#c2bee2"/><circle cx="433.3" cy="322.9" r="8" fill="#6c6ad0"/><circle cx="440.5" cy="340.9" r="12" fill="#c6c2e4"/><circle cx="463.2" cy="332.4" r="12" fill="#7c7ad8"/><circle cx="438" cy="357.7" r="12" fill="#6a66d4"/><circle cx="463.2" cy="358.7" r="11" fill="#6a66d4"/><circle cx="446.5" cy="309.6" r="4" fill="#3a38c0"/><circle cx="422.4" cy="324" r="3" fill="#3a38c0"/><circle cx="440.5" cy="346.9" r="3" fill="#3432c0"/><circle cx="471.6" cy="325.2" r="3" fill="#3432c0"/><circle cx="498" cy="315.6" r="3.5" fill="#4a46c8"/><circle cx="426" cy="307.2" r="2.5" fill="#5a58c4"/><circle cx="486" cy="332.4" r="7" fill="#2a28d2"/><circle cx="498" cy="336" r="8" fill="#2a28d2"/><circle cx="484.8" cy="346.7" r="10" fill="#2a28d2"/><circle cx="496.8" cy="354" r="10" fill="#2a28d2"/><circle cx="505.2" cy="352.7" r="7" fill="#2a28d2"/><circle cx="492" cy="361.1" r="8" fill="#2a28d2"/><circle cx="490" cy="342" r="8" fill="#2a28d2"/></g></g>
<rect x="273.5" y="101.5" width="245" height="2.3" fill="#dfe1df"/>
<rect x="273.5" y="191.3" width="245" height="2" fill="#dfe1df"/>
<rect x="273.5" y="280.4" width="245" height="2.4" fill="#dfe1df"/>
<path d="M273.5 14.2H518.6V369.7H273.5Z" fill="none" stroke="#9a9a9a" stroke-width="0.8"/>
</svg>
</body></html>
